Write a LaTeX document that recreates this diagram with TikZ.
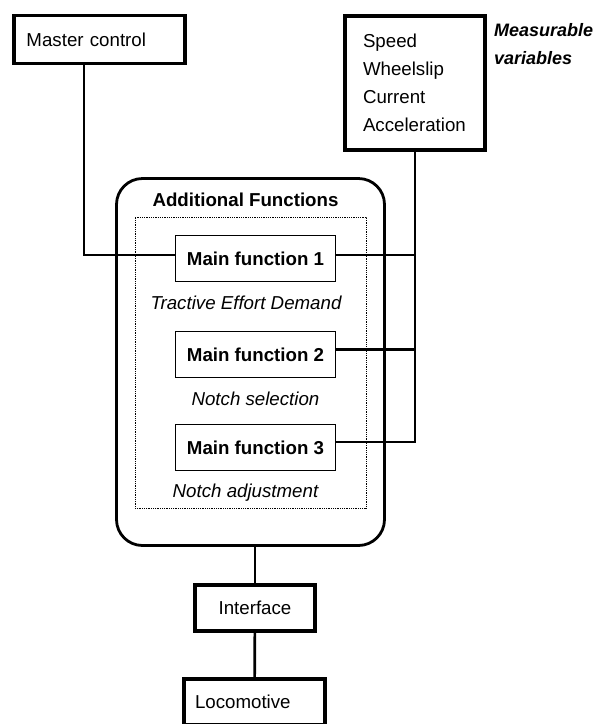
\documentclass[tikz,border=0pt]{standalone}
\usepackage{fontspec}
\setmainfont{Liberation Sans}
\usetikzlibrary{ % tikz packages
    positioning
}
\newcommand{\figfont}{\fontsize{18.7}{28}\selectfont}
\tikzset{
    heavybox/.style={draw, line width=3.6pt, inner ysep=0pt, font=\figfont},
    fnbox/.style={draw, line width=1.3pt, minimum width=160pt,
        minimum height=46pt, font=\figfont\bfseries},
    note/.style={font=\figfont\itshape, inner sep=0pt},
    wire/.style={line width=2.7pt}
}

\begin{document}
\begin{tikzpicture}[x=1pt,y=-1pt,node distance=95pt,on grid]
            \useasboundingbox (0,0) rectangle (597,724);

            \node[heavybox, text width=146pt, align=left, inner xsep=12.5pt,
                minimum height=48pt] (master) at (99.5,39.5) {Master control};
            \node[heavybox, line width=4pt, text width=104pt, align=left,
                inner xsep=18pt, minimum height=134pt] (meas) at (415,83)
                {Speed\\Wheelslip\\Current\\Acceleration};
            \node[note, font=\fontsize{18}{28}\selectfont\bfseries\itshape, align=left,
                anchor=north west] (measlbl) at (494,23) {Measurable\\variables};

            \node[draw, line width=2.8pt, rounded corners=26pt,
                minimum width=268pt, minimum height=367pt] (addfun) at (250.5,362) {};
            \node[font=\figfont\bfseries, inner sep=0pt] (addtitle) at (245.5,200)
                {Additional Functions};
            \node[draw, line width=0.9pt, dash pattern=on 0.9pt off 0.9pt,
                minimum width=231pt, minimum height=291pt] (inner) at (250.5,362.5) {};

            \node[fnbox] (mf1) at (255.5,258.5) {Main function 1};
            \node[fnbox] (mf2) [below=96pt of mf1] {Main function 2};
            \node[fnbox] (mf3) [below=93pt of mf2] {Main function 3};
            \node[note] (ted) [below=44.5pt of mf1, xshift=-9.5pt] {Tractive Effort Demand};
            \node[note] (nsel) [below=44.5pt of mf2] {Notch selection};
            \node[note] (nadj) [below=45.5pt of mf3, xshift=-10pt] {Notch adjustment};

            \node[heavybox, line width=4.4pt, minimum width=120pt,
                minimum height=46pt] (interface) at (255,608) {Interface};
            \node[heavybox, line width=4pt, text width=119pt, align=left,
                inner xsep=11pt, minimum height=46pt] (loco) at (254.5,702) {Locomotive};

            % connections
            \coordinate (w1) at ([yshift=3.5pt]mf1.east);
            \coordinate (w2) at ([yshift=5pt]mf2.east);
            \coordinate (w3) at ([yshift=5.5pt]mf3.east);
            \draw[wire] ([xshift=-15.5pt]master.south) |- ([yshift=3.5pt]mf1.west);
            \draw[wire] (meas.south) |- (w3);
            \path
                (w1)
                    edge[wire] (w1 -| meas.south)
                (w2)
                    edge[wire] (w2 -| meas.south)
                (interface.north)
                    edge[wire] (interface.north |- addfun.south)
                (interface)
                    edge[wire] (loco);
        \end{tikzpicture}
\end{document}
